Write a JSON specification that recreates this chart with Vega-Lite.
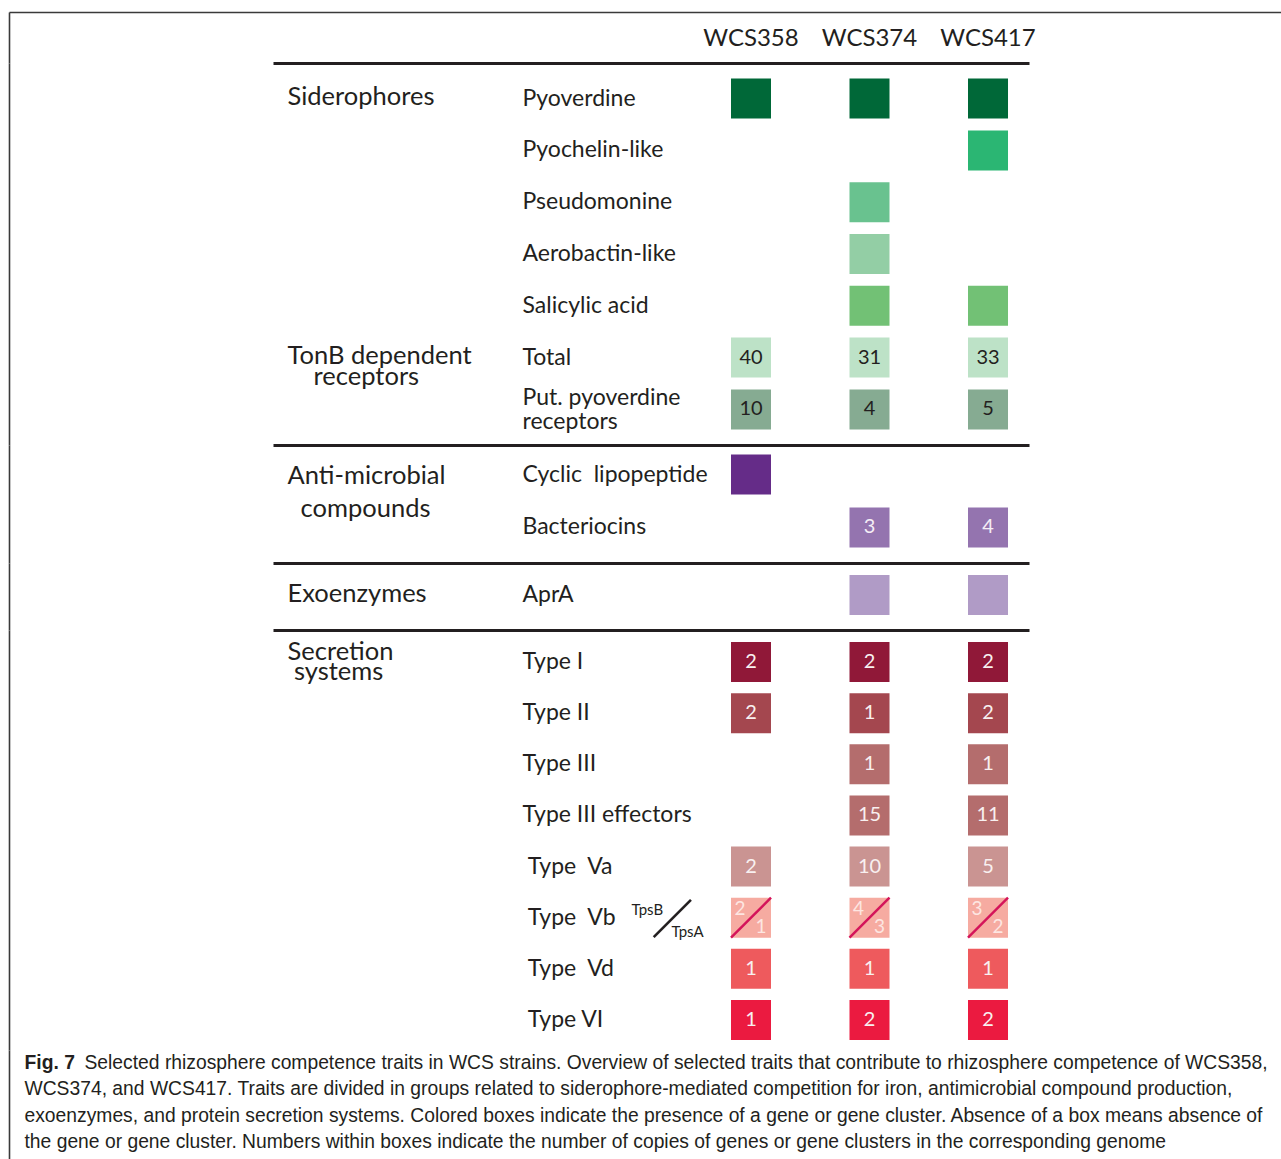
{
  "$schema": "https://vega.github.io/schema/vega-lite/v6.json",
  "description": "Selected rhizosphere competence traits in WCS strains (Fig. 7).",
  "background": "white",
  "padding": {"left": 9, "top": 9, "right": 0, "bottom": 0},
  "bounds": "flush",
  "spacing": 0,
  "datasets": {
    "boxes": [
      {"sec": 1, "trait": "Pyoverdine", "strain": "WCS358"},
      {"sec": 1, "trait": "Pyoverdine", "strain": "WCS374"},
      {"sec": 1, "trait": "Pyoverdine", "strain": "WCS417"},
      {"sec": 1, "trait": "Pyochelin-like", "strain": "WCS417"},
      {"sec": 1, "trait": "Pseudomonine", "strain": "WCS374"},
      {"sec": 1, "trait": "Aerobactin-like", "strain": "WCS374"},
      {"sec": 1, "trait": "Salicylic acid", "strain": "WCS374"},
      {"sec": 1, "trait": "Salicylic acid", "strain": "WCS417"},
      {"sec": 1, "trait": "Total", "strain": "WCS358", "n": 40},
      {"sec": 1, "trait": "Total", "strain": "WCS374", "n": 31},
      {"sec": 1, "trait": "Total", "strain": "WCS417", "n": 33},
      {"sec": 1, "trait": "Put. pyoverdine receptors", "strain": "WCS358", "n": 10},
      {"sec": 1, "trait": "Put. pyoverdine receptors", "strain": "WCS374", "n": 4},
      {"sec": 1, "trait": "Put. pyoverdine receptors", "strain": "WCS417", "n": 5},
      {"sec": 2, "trait": "Cyclic lipopeptide", "strain": "WCS358"},
      {"sec": 2, "trait": "Bacteriocins", "strain": "WCS374", "n": 3},
      {"sec": 2, "trait": "Bacteriocins", "strain": "WCS417", "n": 4},
      {"sec": 3, "trait": "AprA", "strain": "WCS374"},
      {"sec": 3, "trait": "AprA", "strain": "WCS417"},
      {"sec": 4, "trait": "Type I", "strain": "WCS358", "n": 2},
      {"sec": 4, "trait": "Type I", "strain": "WCS374", "n": 2},
      {"sec": 4, "trait": "Type I", "strain": "WCS417", "n": 2},
      {"sec": 4, "trait": "Type II", "strain": "WCS358", "n": 2},
      {"sec": 4, "trait": "Type II", "strain": "WCS374", "n": 1},
      {"sec": 4, "trait": "Type II", "strain": "WCS417", "n": 2},
      {"sec": 4, "trait": "Type III", "strain": "WCS374", "n": 1},
      {"sec": 4, "trait": "Type III", "strain": "WCS417", "n": 1},
      {"sec": 4, "trait": "Type III effectors", "strain": "WCS374", "n": 15},
      {"sec": 4, "trait": "Type III effectors", "strain": "WCS417", "n": 11},
      {"sec": 4, "trait": "Type Va", "strain": "WCS358", "n": 2},
      {"sec": 4, "trait": "Type Va", "strain": "WCS374", "n": 10},
      {"sec": 4, "trait": "Type Va", "strain": "WCS417", "n": 5},
      {"sec": 4, "trait": "Type Vb", "strain": "WCS358", "tpsB": 2, "tpsA": 1},
      {"sec": 4, "trait": "Type Vb", "strain": "WCS374", "tpsB": 4, "tpsA": 3},
      {"sec": 4, "trait": "Type Vb", "strain": "WCS417", "tpsB": 3, "tpsA": 2},
      {"sec": 4, "trait": "Type Vd", "strain": "WCS358", "n": 1},
      {"sec": 4, "trait": "Type Vd", "strain": "WCS374", "n": 1},
      {"sec": 4, "trait": "Type Vd", "strain": "WCS417", "n": 1},
      {"sec": 4, "trait": "Type VI", "strain": "WCS358", "n": 1},
      {"sec": 4, "trait": "Type VI", "strain": "WCS374", "n": 2},
      {"sec": 4, "trait": "Type VI", "strain": "WCS417", "n": 2}
    ],
    "caption": [
      {"text": "Selected rhizosphere competence traits in WCS strains. Overview of selected traits that contribute to rhizosphere competence of WCS358,"},
      {"text": "WCS374, and WCS417. Traits are divided in groups related to siderophore-mediated competition for iron, antimicrobial compound production,"},
      {"text": "exoenzymes, and protein secretion systems. Colored boxes indicate the presence of a gene or gene cluster. Absence of a box means absence of"},
      {"text": "the gene or gene cluster. Numbers within boxes indicate the number of copies of genes or gene clusters in the corresponding genome"}
    ]
  },
  "vconcat": [
    {
      "width": 756,
      "height": 51,
      "data": {"name": "boxes"},
      "transform": [{"filter": "datum.sec == 1"}],
      "layer": [
        {
          "mark": {"type": "text", "text": ""},
          "encoding": {
            "x": {"field": "strain", "type": "nominal",
              "scale": {"range": [-264, 1020]},
              "axis": {"orient": "top", "title": null, "labels": false, "ticks": false, "tickSize": 0, "domainColor": "#3a3a3a", "domainWidth": 1.6, "minExtent": 0}},
            "y": {"field": "trait", "type": "nominal",
              "axis": {"orient": "left", "offset": 264, "title": null, "labels": false, "ticks": false, "tickSize": 0, "domainColor": "#3a3a3a", "domainWidth": 1.6, "minExtent": 0}}
          }
        }
      ]
    },
    {
      "width": 756,
      "height": 382,
      "data": {"name": "boxes"},
      "transform": [{"filter": "datum.sec == 1"}],
      "encoding": {
        "x": {
          "field": "strain", "type": "nominal",
          "scale": {"domain": [" ", "  ", "   ", "WCS358", "WCS374", "WCS417"], "paddingInner": 0.6624, "paddingOuter": 0.521, "align": 0.83, "round": false},
          "axis": {"orient": "top", "title": null, "ticks": false, "tickSize": 0, "labelAngle": 0, "labelFontSize": 24, "labelColor": "#231f20", "labelBaseline": "alphabetic", "labelPadding": 17.5, "domainColor": "#231f20", "domainWidth": 3}
        }
      },
      "layer": [
        {
          "mark": {"type": "rect"},
          "encoding": {
            "y": {
              "field": "trait", "type": "nominal",
              "scale": {"domain": ["Pyoverdine", "Pyochelin-like", "Pseudomonine", "Aerobactin-like", "Salicylic acid", "Total", "Put. pyoverdine receptors"], "paddingInner": 0.2278, "paddingOuter": 0.301, "round": false},
              "axis": {"orient": "left", "offset": 264, "title": null, "domain": true, "domainColor": "#3a3a3a", "domainWidth": 1.6, "ticks": false, "tickSize": 0, "labelAlign": "left", "labelBaseline": "middle", "labelPadding": -513, "labelFontSize": 23, "labelColor": "#231f20", "labelLimit": 0, "labelOverlap": false,
                "labelExpr": "datum.value == 'Put. pyoverdine receptors' ? '' : datum.value"}
            },
            "color": {
              "field": "trait", "type": "nominal", "legend": null,
              "scale": {"domain": ["Pyoverdine", "Pyochelin-like", "Pseudomonine", "Aerobactin-like", "Salicylic acid", "Total", "Put. pyoverdine receptors"],
                "range": ["#006838", "#2bb673", "#69c28f", "#93cea5", "#72c175", "#bde2c7", "#86ab92"]}
            }
          }
        },
        {
          "transform": [{"filter": "isValid(datum.n)"}],
          "mark": {"type": "text", "fontSize": 20, "color": "#231f20"},
          "encoding": {
            "y": {
              "field": "trait", "type": "nominal",
              "axis": {"orient": "left", "title": null, "domain": false, "ticks": false, "tickSize": 0, "labelAlign": "left", "labelBaseline": "middle", "labelPadding": -249, "labelOffset": -11, "labelLineHeight": 24, "labelFontSize": 23, "labelColor": "#231f20", "labelLimit": 0, "labelOverlap": false,
                "labelExpr": "datum.value == 'Put. pyoverdine receptors' ? ['Put. pyoverdine', 'receptors'] : ''"}
            },
            "text": {"field": "n", "type": "quantitative"}
          }
        },
        {
          "mark": {"type": "text", "text": ""},
          "encoding": {
            "y": {
              "field": "trait", "type": "nominal",
              "axis": {"orient": "left", "title": null, "domain": false, "ticks": false, "tickSize": 0, "labelAlign": "left", "labelBaseline": "middle", "labelPadding": -14, "labelOffset": -2, "labelLineHeight": 21, "labelFontSize": 25.5, "labelColor": "#231f20", "labelLimit": 0, "labelOverlap": false,
                "labelExpr": "datum.value == 'Pyoverdine' ? 'Siderophores' : datum.value == 'Total' ? ['TonB dependent', '\u200b\u00a0\u00a0\u00a0\u00a0receptors'] : ''"}
            }
          }
        }
      ],
      "resolve": {"axis": {"y": "independent"}}
    },
    {
      "width": 756,
      "height": 118,
      "data": {"name": "boxes"},
      "transform": [{"filter": "datum.sec == 2"}],
      "encoding": {
        "x": {
          "field": "strain", "type": "nominal",
          "scale": {"domain": [" ", "  ", "   ", "WCS358", "WCS374", "WCS417"], "paddingInner": 0.6624, "paddingOuter": 0.521, "align": 0.83, "round": false},
          "axis": {"orient": "top", "title": null, "ticks": false, "tickSize": 0, "labels": false, "domainColor": "#231f20", "domainWidth": 3}
        }
      },
      "layer": [
        {
          "mark": {"type": "rect"},
          "encoding": {
            "y": {
              "field": "trait", "type": "nominal",
              "scale": {"domain": ["Cyclic lipopeptide", "Bacteriocins"], "paddingInner": 0.2453, "paddingOuter": 0.236, "align": 0.38, "round": false},
              "axis": {"orient": "left", "offset": 264, "title": null, "domain": true, "domainColor": "#3a3a3a", "domainWidth": 1.6, "ticks": false, "tickSize": 0, "labelAlign": "left", "labelBaseline": "middle", "labelPadding": -513, "labelFontSize": 23, "labelColor": "#231f20", "labelLimit": 0, "labelOverlap": false,
                "labelExpr": "datum.value == 'Cyclic lipopeptide' ? 'Cyclic\u00a0\u00a0lipopeptide' : datum.value"}
            },
            "color": {
              "field": "trait", "type": "nominal", "legend": null,
              "scale": {"domain": ["Cyclic lipopeptide", "Bacteriocins"], "range": ["#652c88", "#9474af"]}
            }
          }
        },
        {
          "transform": [{"filter": "isValid(datum.n)"}],
          "mark": {"type": "text", "fontSize": 20, "color": "#f4eef6"},
          "encoding": {
            "y": {
              "field": "trait", "type": "nominal",
              "axis": {"orient": "left", "title": null, "domain": false, "ticks": false, "tickSize": 0, "labelAlign": "left", "labelBaseline": "middle", "labelPadding": -14, "labelOffset": 1.5, "labelLineHeight": 33, "labelFontSize": 25.5, "labelColor": "#231f20", "labelLimit": 0, "labelOverlap": false,
                "labelExpr": "datum.value == 'Cyclic lipopeptide' ? ['Anti-microbial', '\u200b\u00a0\u00a0compounds'] : ''"}
            },
            "text": {"field": "n", "type": "quantitative"}
          }
        }
      ],
      "resolve": {"axis": {"y": "independent"}}
    },
    {
      "width": 756,
      "height": 67,
      "data": {"name": "boxes"},
      "transform": [{"filter": "datum.sec == 3"}],
      "encoding": {
        "x": {
          "field": "strain", "type": "nominal",
          "scale": {"domain": [" ", "  ", "   ", "WCS358", "WCS374", "WCS417"], "paddingInner": 0.6624, "paddingOuter": 0.521, "align": 0.83, "round": false},
          "axis": {"orient": "top", "title": null, "ticks": false, "tickSize": 0, "labels": false, "domainColor": "#231f20", "domainWidth": 3}
        }
      },
      "layer": [
        {
          "mark": {"type": "rect"},
          "encoding": {
            "y": {
              "field": "trait", "type": "nominal",
              "scale": {"domain": ["AprA"], "paddingInner": 0.2308, "paddingOuter": 0.26, "align": 0.444, "round": false},
              "axis": {"orient": "left", "offset": 264, "title": null, "domain": true, "domainColor": "#3a3a3a", "domainWidth": 1.6, "ticks": false, "tickSize": 0, "labelAlign": "left", "labelBaseline": "middle", "labelPadding": -513, "labelFontSize": 23, "labelColor": "#231f20", "labelLimit": 0, "labelOverlap": false}
            },
            "color": {
              "field": "trait", "type": "nominal", "legend": null,
              "scale": {"domain": ["AprA"], "range": ["#b09bc6"]}
            }
          }
        },
        {
          "mark": {"type": "text", "text": ""},
          "encoding": {
            "y": {
              "field": "trait", "type": "nominal",
              "axis": {"orient": "left", "title": null, "domain": false, "ticks": false, "tickSize": 0, "labelAlign": "left", "labelBaseline": "middle", "labelPadding": -14, "labelOffset": -1, "labelFontSize": 25.5, "labelColor": "#231f20", "labelLimit": 0, "labelOverlap": false,
                "labelExpr": "'Exoenzymes'"}
            }
          }
        }
      ],
      "resolve": {"axis": {"y": "independent"}}
    },
    {
      "width": 756,
      "height": 420,
      "data": {"name": "boxes"},
      "transform": [{"filter": "datum.sec == 4"}],
      "encoding": {
        "x": {
          "field": "strain", "type": "nominal",
          "scale": {"domain": [" ", "  ", "   ", "WCS358", "WCS374", "WCS417"], "paddingInner": 0.6624, "paddingOuter": 0.521, "align": 0.83, "round": false},
          "axis": {"orient": "top", "title": null, "ticks": false, "tickSize": 0, "labels": false, "domainColor": "#231f20", "domainWidth": 3}
        }
      },
      "layer": [
        {
          "mark": {"type": "rect"},
          "encoding": {
            "y": {
              "field": "trait", "type": "nominal",
              "scale": {"domain": ["Type I", "Type II", "Type III", "Type III effectors", "Type Va", "Type Vb", "Type Vd", "Type VI"], "paddingInner": 0.2179, "paddingOuter": 0.2154, "align": 0.545, "round": false},
              "axis": {"orient": "left", "offset": 264, "title": null, "domain": true, "domainColor": "#3a3a3a", "domainWidth": 1.6, "ticks": false, "tickSize": 0, "labelAlign": "left", "labelBaseline": "middle", "labelPadding": -513, "labelFontSize": 23, "labelColor": "#231f20", "labelLimit": 0, "labelOverlap": false,
                "labelExpr": "indexof(['Type Va', 'Type Vb', 'Type Vd'], datum.value) >= 0 ? '\u200b\u00a0' + replace(datum.value, ' ', '\u00a0\u00a0') : datum.value == 'Type VI' ? '\u200b\u00a0Type VI' : datum.value"}
            },
            "color": {
              "field": "trait", "type": "nominal", "legend": null,
              "scale": {"domain": ["Type I", "Type II", "Type III", "Type III effectors", "Type Va", "Type Vb", "Type Vd", "Type VI"],
                "range": ["#901838", "#a4474f", "#b46d6d", "#b46d6d", "#ca9492", "#f6aba1", "#ee5a5d", "#eb1a40"]}
            }
          }
        },
        {
          "transform": [{"filter": "isValid(datum.n)"}],
          "mark": {"type": "text", "fontSize": 20, "color": "#f8f0f0"},
          "encoding": {
            "y": {
              "field": "trait", "type": "nominal",
              "axis": {"orient": "left", "title": null, "domain": false, "ticks": false, "tickSize": 0, "labelAlign": "left", "labelBaseline": "middle", "labelPadding": -14, "labelOffset": -10, "labelLineHeight": 20, "labelFontSize": 25.5, "labelColor": "#231f20", "labelLimit": 0, "labelOverlap": false,
                "labelExpr": "datum.value == 'Type I' ? ['Secretion', '\u200b\u00a0systems'] : ''"}
            },
            "text": {"field": "n", "type": "quantitative"}
          }
        },
        {
          "transform": [{"filter": "isValid(datum.tpsB)"}],
          "mark": {"type": "point", "shape": "M-1,1L1,-1", "size": 1600, "filled": false, "stroke": "#d4145a", "strokeWidth": 2.5, "opacity": 1},
          "encoding": {
            "y": {
              "field": "trait", "type": "nominal",
              "axis": {"orient": "left", "title": null, "domain": false, "ticks": false, "tickSize": 0, "labelAlign": "left", "labelBaseline": "middle", "labelPadding": -358, "labelOffset": -8, "labelFontSize": 15, "labelColor": "#231f20", "labelLimit": 0, "labelOverlap": false,
                "labelExpr": "datum.value == 'Type Vb' ? 'TpsB' : ''"}
            }
          }
        },
        {
          "transform": [{"filter": "isValid(datum.tpsB)"}],
          "mark": {"type": "text", "fontSize": 19, "color": "#fde6e2", "dx": -11, "dy": -9},
          "encoding": {
            "y": {
              "field": "trait", "type": "nominal",
              "axis": {"orient": "left", "title": null, "domain": false, "ticks": false, "tickSize": 0, "labelAlign": "center", "labelBaseline": "middle", "labelAngle": -45, "labelPadding": -396, "labelOffset": -2, "labelFont": "Liberation Serif", "labelFontSize": 52, "labelColor": "#231f20", "labelLimit": 0, "labelOverlap": false,
                "labelExpr": "datum.value == 'Type Vb' ? '\u2014' : ''"}
            },
            "text": {"field": "tpsB", "type": "quantitative"}
          }
        },
        {
          "transform": [{"filter": "isValid(datum.tpsA)"}],
          "mark": {"type": "text", "fontSize": 19, "color": "#fde6e2", "dx": 10, "dy": 9},
          "encoding": {
            "y": {
              "field": "trait", "type": "nominal",
              "axis": {"orient": "left", "title": null, "domain": false, "ticks": false, "tickSize": 0, "labelAlign": "left", "labelBaseline": "middle", "labelPadding": -398, "labelOffset": 14, "labelFontSize": 15, "labelColor": "#231f20", "labelLimit": 0, "labelOverlap": false,
                "labelExpr": "datum.value == 'Type Vb' ? 'TpsA' : ''"}
            },
            "text": {"field": "tpsA", "type": "quantitative"}
          }
        }
      ],
      "resolve": {"axis": {"y": "independent"}}
    },
    {
      "width": 756,
      "height": 110,
      "data": {"name": "caption"},
      "encoding": {
        "y": {
          "field": "text", "type": "nominal", "sort": null,
          "scale": {"type": "band", "paddingInner": 0, "paddingOuter": 0.0913, "align": 0, "round": false}
        }
      },
      "layer": [
        {
          "mark": {"type": "text", "text": ""},
          "encoding": {
            "y": {
              "field": "text", "type": "nominal", "sort": null,
              "axis": {"orient": "left", "offset": 264, "title": null, "domain": true, "domainColor": "#3a3a3a", "domainWidth": 1.6, "ticks": false, "tickSize": 0, "labelAlign": "left", "labelBaseline": "middle", "labelPadding": -15, "labelFont": "Liberation Sans", "labelFontSize": 19.3, "labelColor": "#231f20", "labelLimit": 0, "labelOverlap": false,
                "labelExpr": "indexof(datum.value, 'Selected') == 0 ? '' : datum.value"}
            }
          }
        },
        {
          "mark": {"type": "text", "text": ""},
          "encoding": {
            "y": {
              "field": "text", "type": "nominal", "sort": null,
              "axis": {"orient": "left", "title": null, "domain": false, "ticks": false, "tickSize": 0, "labelAlign": "left", "labelBaseline": "middle", "labelPadding": 189, "labelFont": "Liberation Sans", "labelFontSize": 19.3, "labelColor": "#231f20", "labelLimit": 0, "labelOverlap": false,
                "labelExpr": "indexof(datum.value, 'Selected') == 0 ? datum.value : ''"}
            }
          }
        },
        {
          "mark": {"type": "text", "text": ""},
          "encoding": {
            "y": {
              "field": "text", "type": "nominal", "sort": null,
              "axis": {"orient": "left", "title": null, "domain": false, "ticks": false, "tickSize": 0, "labelAlign": "left", "labelBaseline": "middle", "labelPadding": 249, "labelFont": "Liberation Sans", "labelFontWeight": "bold", "labelFontSize": 19.3, "labelColor": "#231f20", "labelLimit": 0, "labelOverlap": false,
                "labelExpr": "indexof(datum.value, 'Selected') == 0 ? 'Fig. 7' : ''"}
            }
          }
        }
      ],
      "resolve": {"axis": {"y": "independent"}}
    }
  ],
  "resolve": {
    "scale": {"x": "independent", "y": "independent", "color": "independent"},
    "axis": {"x": "independent", "y": "independent"}
  },
  "config": {
    "font": "Lato",
    "view": {"stroke": null},
    "axis": {"grid": false, "labelFont": "Lato"}
  }
}
